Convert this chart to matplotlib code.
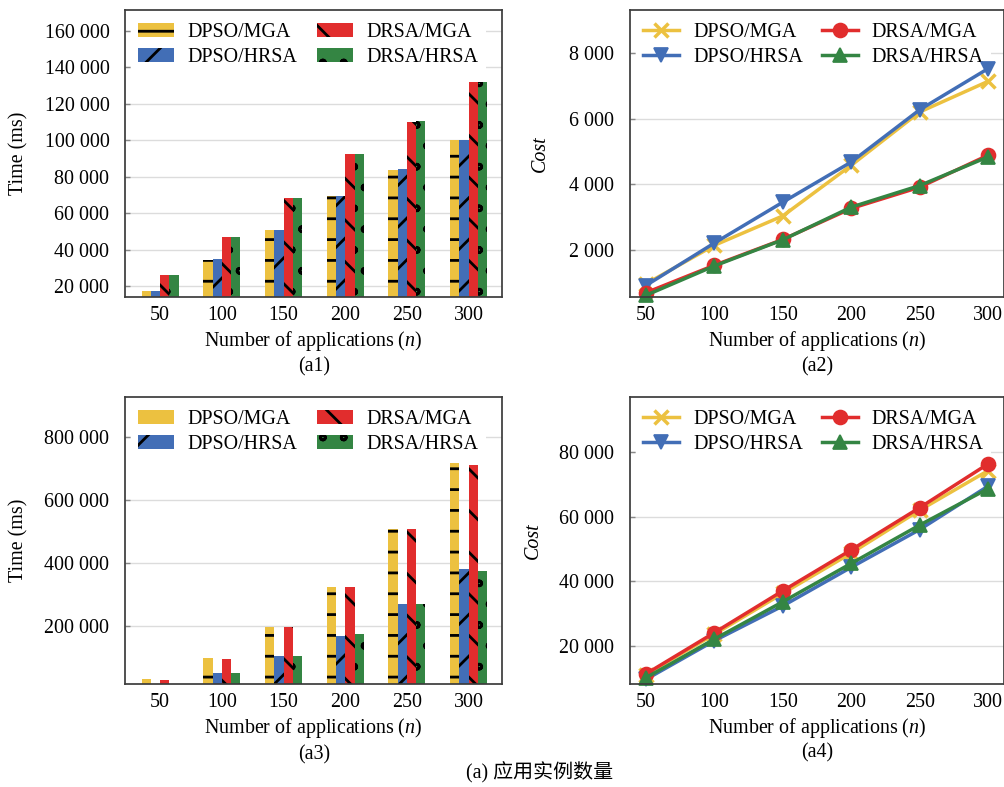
import numpy as np
import matplotlib
matplotlib.use("Agg")
import matplotlib.pyplot as plt
import matplotlib.hatch
from matplotlib.ticker import FuncFormatter

plt.rcParams['font.family'] = ['Liberation Serif', 'Noto Sans CJK SC']
plt.rcParams['font.size'] = 11.5
plt.rcParams['mathtext.fontset'] = 'custom'
plt.rcParams['mathtext.rm'] = 'Liberation Serif'
plt.rcParams['mathtext.it'] = 'Liberation Serif:italic'
plt.rcParams['hatch.linewidth'] = 1.6
# smaller rings for the 'o' hatch, like the reference
matplotlib.hatch.SmallCircles.size = 0.12

# data
n_apps = [50, 100, 150, 200, 250, 300]
series = ["DPSO/MGA", "DPSO/HRSA", "DRSA/MGA", "DRSA/HRSA"]

# (a1) time
a1_dpso_mga = [17300, 34400, 50700, 69500, 83600, 100300]
a1_dpso_hrsa = [17500, 35000, 50500, 69500, 84000, 100000]
a1_drsa_mga = [26000, 46900, 68200, 92300, 110300, 131800]
a1_drsa_hrsa = [26000, 47000, 68500, 92300, 110500, 132000]

# (a2) cost
a2_dpso_mga = [950, 2130, 3030, 4580, 6210, 7150]
a2_dpso_hrsa = [900, 2200, 3450, 4680, 6280, 7540]
a2_drsa_mga = [680, 1520, 2310, 3260, 3910, 4890]
a2_drsa_hrsa = [600, 1500, 2300, 3300, 3960, 4840]

# (a3) time
a3_dpso_mga = [30000, 96500, 197000, 323800, 507000, 715500]
a3_dpso_hrsa = [9000, 48900, 104800, 167300, 267900, 380000]
a3_drsa_mga = [29000, 93300, 197000, 322000, 507000, 711000]
a3_drsa_hrsa = [9000, 49000, 104800, 172700, 269800, 373700]

# (a4) cost
a4_dpso_mga = [11000, 23500, 36200, 48700, 62000, 74300]
a4_dpso_hrsa = [9500, 21500, 32300, 44300, 56000, 69500]
a4_drsa_mga = [11200, 24000, 37000, 49700, 62800, 76400]
a4_drsa_hrsa = [10000, 22000, 33600, 45500, 57400, 68700]

colors = ["#ECC140", "#426EB6", "#E12D2D", "#348543"]
hatches = ["-", "/", "\\", "o"]
markers = ["x", "v", "o", "^"]

fig = plt.figure(figsize=(8.04, 6.296), dpi=125)
ax1 = fig.add_axes([0.1244, 0.6226, 0.3751, 0.3647])
ax2 = fig.add_axes([0.6269, 0.6226, 0.3721, 0.3647])
ax3 = fig.add_axes([0.1244, 0.1309, 0.3751, 0.3651])
ax4 = fig.add_axes([0.6269, 0.1309, 0.3721, 0.3642])

fmt = FuncFormatter(lambda v, p: f"{v:,.0f}".replace(",", " "))


def style(ax):
    ax.set_axisbelow(True)
    ax.yaxis.grid(True, color="#dcdcdc", linewidth=0.8)
    for s in ax.spines.values():
        s.set_color("#3c3c3c")
        s.set_linewidth(1.0)
    ax.tick_params(axis="y", direction="in", length=3, color="#888888", pad=9.0)
    ax.tick_params(axis="x", length=0, pad=5)
    ax.yaxis.set_major_formatter(fmt)
    ax.set_xlabel("Number of applications ($n$)")
    ax.xaxis.set_label_coords(0.5, -0.112)
    ax.xaxis.label.set_va("top")


def legend(ax):
    leg = ax.legend(ncol=2, loc="upper left", frameon=True, facecolor="white", edgecolor="none",
                    framealpha=1.0, fancybox=False, handlelength=1.8, handletextpad=0.7,
                    columnspacing=0.95, labelspacing=0.3, borderaxespad=0.3, borderpad=0.35)
    leg.set_zorder(1.5)


def bars(ax, vals, yticks, ylim):
    x = np.arange(len(n_apps))
    w = 0.15
    for k, v in enumerate(vals):
        ax.bar(x + (k - 1.5) * w, v, w, color=colors[k], hatch=hatches[k],
               edgecolor="black", linewidth=0, label=series[k])
    ax.set_xticks(x)
    ax.set_xticklabels([str(n) for n in n_apps])
    ax.set_xlim(-0.57, 5.54)
    ax.set_yticks(yticks)
    ax.set_ylim(*ylim)
    style(ax)
    ax.set_ylabel("Time (ms)")
    ax.yaxis.set_label_coords(-0.257, 0.5)
    legend(ax)


def lines(ax, vals, yticks, ylim, lx):
    for k, v in enumerate(vals):
        ax.plot(n_apps, v, color=colors[k], marker=markers[k], linewidth=2.0,
                markersize=8, markeredgewidth=2.0 if markers[k] == "x" else 1.0,
                label=series[k], clip_on=False)
    ax.set_xticks(n_apps)
    ax.set_xlim(38.5, 311.5)
    ax.set_yticks(yticks)
    ax.set_ylim(*ylim)
    style(ax)
    ax.set_ylabel("Cost", fontstyle="italic")
    ax.yaxis.set_label_coords(lx, 0.5)
    legend(ax)


bars(ax1, [a1_dpso_mga, a1_dpso_hrsa, a1_drsa_mga, a1_drsa_hrsa],
     np.arange(20000, 160001, 20000), (14000, 171500))
lines(ax2, [a2_dpso_mga, a2_dpso_hrsa, a2_drsa_mga, a2_drsa_hrsa],
      np.arange(2000, 8001, 2000), (550, 9330), -0.214)
bars(ax3, [a3_dpso_mga, a3_dpso_hrsa, a3_drsa_mga, a3_drsa_hrsa],
     np.arange(200000, 800001, 200000), (15000, 927000))
lines(ax4, [a4_dpso_mga, a4_dpso_hrsa, a4_drsa_mga, a4_drsa_hrsa],
      np.arange(20000, 80001, 20000), (8100, 97000), -0.233)

fig.text(0.3125, 0.534, "(a1)", ha="center", va="center")
fig.text(0.8134, 0.534, "(a2)", ha="center", va="center")
fig.text(0.3125, 0.0407, "(a3)", ha="center", va="center")
fig.text(0.8134, 0.043, "(a4)", ha="center", va="center")
fig.text(0.537, 0.0178, "(a) 应用实例数量", ha="center", va="center")

fig.savefig("out.png", dpi=125)
